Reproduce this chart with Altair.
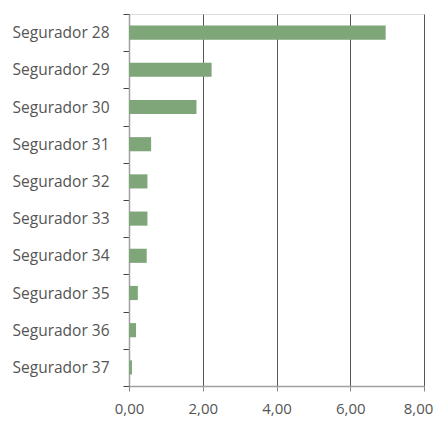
import altair as alt
import pandas as pd

# Insurer names and their values
seguradores = [
    "Segurador 28", "Segurador 29", "Segurador 30", "Segurador 31", "Segurador 32",
    "Segurador 33", "Segurador 34", "Segurador 35", "Segurador 36", "Segurador 37",
]
valores = [6.96, 2.24, 1.83, 0.60, 0.50, 0.50, 0.48, 0.24, 0.19, 0.08]
x_ticks = [0, 2, 4, 6, 8]

df = pd.DataFrame({"segurador": seguradores, "valor": valores})

FONT = "Open Sans"

chart = (
    alt.Chart(df)
    .mark_bar(color="#7ea679", height=alt.RelativeBandSize(0.38))
    .encode(
        x=alt.X(
            "valor:Q",
            scale=alt.Scale(domain=[0, 8], nice=False),
            axis=alt.Axis(
                title=None,
                values=x_ticks,
                labelExpr="replace(format(datum.value, '.2f'), '.', ',')",
                labelFlush=False,
                labelOffset={"condition": {"test": "datum.value == 8", "value": -6}, "value": 0},
                grid=True,
                gridColor="#555555",
                gridWidth=1,
                domainColor="#a0a0a0",
                domainWidth=1.5,
                tickColor="#888888",
                tickSize=5,
                labelPadding=10,
                labelFont=FONT,
                labelFontSize=15,
                labelColor="#555555",
            ),
        ),
        y=alt.Y(
            "segurador:N",
            sort=seguradores,
            scale=alt.Scale(paddingInner=0, paddingOuter=0),
            axis=alt.Axis(
                title=None,
                tickBand="extent",
                domainColor="#a0a0a0",
                domainWidth=1.5,
                tickColor="#444444",
                tickSize=6,
                labelPadding=14,
                labelFont=FONT,
                labelFontSize=15.5,
                labelColor="#555555",
            ),
        ),
    )
    .properties(
        width=295,
        height=372,
        autosize=alt.AutoSizeParams(type="none"),
        padding={"left": 129, "top": 14, "right": 12, "bottom": 35},
    )
    .configure_view(stroke=None)
    .configure(background="white")
)

chart.save("out.html", embed_options={"renderer": "svg", "actions": False})
